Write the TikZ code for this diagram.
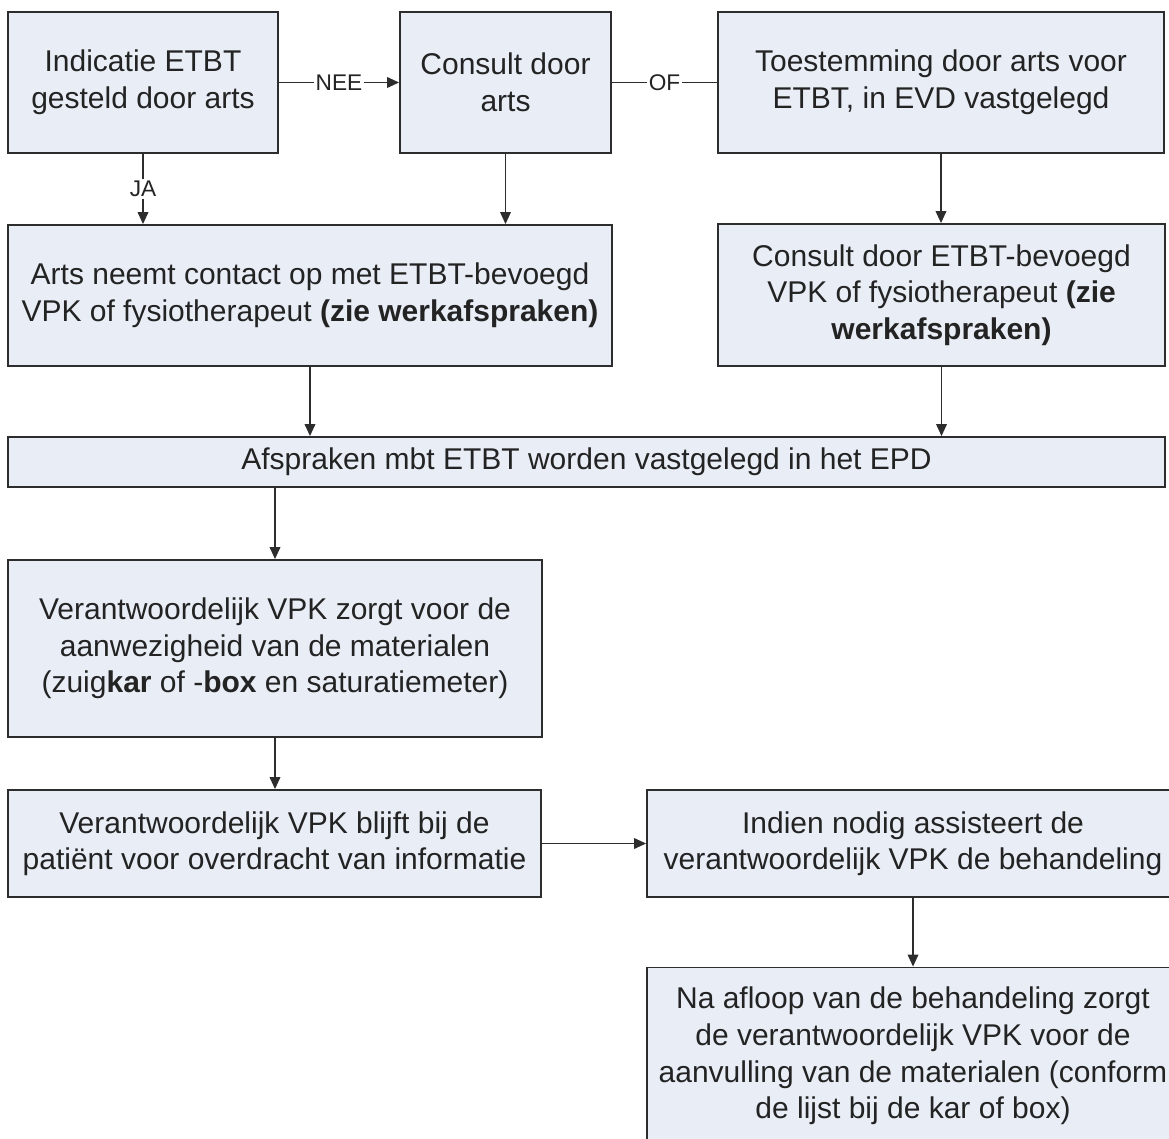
\documentclass[tikz,border=0pt]{standalone}
\usepackage{fontspec}
\setmainfont{Liberation Sans}
\usetikzlibrary{arrows.meta}
\definecolor{boxfill}{RGB}{232,237,246}
\definecolor{boxline}{RGB}{45,45,45}
\definecolor{txt}{RGB}{35,35,35}
\begin{document}
\begin{tikzpicture}[x=0.75pt,y=-0.75pt,
  box/.style={draw=boxline, line width=1.4pt, fill=boxfill, align=center, text=txt,
    font=\fontsize{22.5pt}{27.4pt}\selectfont, inner sep=0pt},
  conn/.style={draw=boxline, line width=1.1pt},
  arr/.style={conn, -{Triangle[length=9pt,width=8pt]}},
  lbl/.style={fill=white, inner sep=1.5pt, font=\fontsize{17pt}{19pt}\selectfont, text=txt}]
\useasboundingbox (0,0) rectangle (1169,1138);
\clip (0,0) rectangle (1169,1138);

\node[box, minimum width=202.5pt, minimum height=105.75pt] (ind) at (143,82.5)
  {Indicatie ETBT\\gesteld door arts};
\node[box, minimum width=158.25pt, minimum height=105.75pt] (cda) at (505.5,82.5)
  {Consult door\\arts};
\node[box, minimum width=334.5pt, minimum height=105.75pt] (toe) at (941,82.5)
  {Toestemming door arts voor\\ETBT, in EVD vastgelegd};
\node[box, minimum width=453pt, minimum height=105.75pt] (arts) at (310,295.5)
  {Arts neemt contact op met ETBT-bevoegd\\VPK of fysiotherapeut \textbf{(zie werkafspraken)}};
\node[box, minimum width=335.25pt, minimum height=106.5pt] (cetbt) at (941.5,295)
  {Consult door ETBT-bevoegd\\VPK of fysiotherapeut \textbf{(zie}\\\textbf{werkafspraken)}};
\node[box, minimum width=867.75pt, minimum height=37.5pt] (afs) at (586.5,462)
  {Afspraken mbt ETBT worden vastgelegd in het EPD};
\node[box, minimum width=400.5pt, minimum height=132.75pt] (ver1) at (275,648.5)
  {Verantwoordelijk VPK zorgt voor de\\aanwezigheid van de materialen\\(zuig\textbf{kar} of -\textbf{box} en saturatiemeter)};
\node[box, minimum width=399.75pt, minimum height=80.25pt] (ver2) at (274.5,843.5)
  {Verantwoordelijk VPK blijft bij de\\patiënt voor overdracht van informatie};
\node[box, minimum width=399pt, minimum height=80.25pt] (ind2) at (913,843.5)
  {Indien nodig assisteert de\\verantwoordelijk VPK de behandeling};
\node[box, minimum width=399pt, minimum height=132.75pt] (naf) at (913,1056)
  {Na afloop van de behandeling zorgt\\de verantwoordelijk VPK voor de\\aanvulling van de materialen (conform\\de lijst bij de kar of box)};

\draw[arr] (ind.east) -- node[lbl] {NEE} (cda.west);
\draw[conn] (cda.east) -- node[lbl] {OF} (toe.west);
\draw[arr] (ind.south) -- node[lbl] {JA} (ind.south |- arts.north);
\draw[arr] (cda.south) -- (cda.south |- arts.north);
\draw[arr] (toe.south) -- (toe.south |- cetbt.north);
\draw[arr] (arts.south) -- (arts.south |- afs.north);
\draw[arr] (cetbt.south) -- (cetbt.south |- afs.north);
\draw[arr] (ver1.north |- afs.south) -- (ver1.north);
\draw[arr] (ver1.south) -- (ver1.south |- ver2.north);
\draw[arr] (ver2.east) -- (ver2.east -| ind2.west);
\draw[arr] (ind2.south) -- (naf.north);
\end{tikzpicture}
\end{document}
